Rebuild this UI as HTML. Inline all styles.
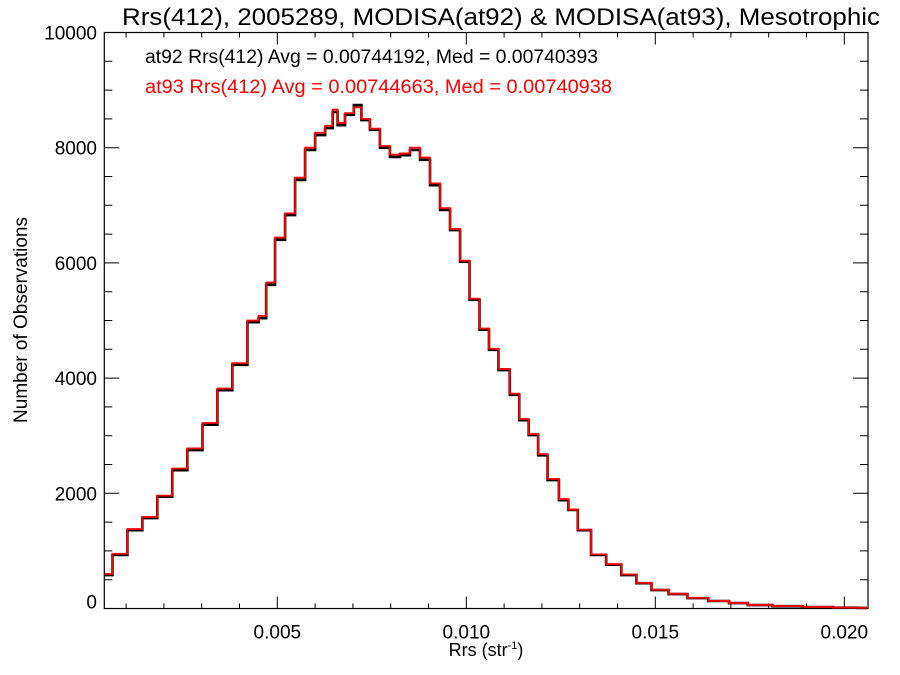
<!DOCTYPE html>
<html><head><meta charset="utf-8"><style>
body{margin:0;background:#fff}
svg{display:block;font-family:"Liberation Sans",sans-serif}
</style></head><body>
<svg id="chart" width="900" height="675" viewBox="0 0 900 675">
<rect width="900" height="675" fill="#fff"/>
<text x="122" y="25" font-size="24" textLength="758" lengthAdjust="spacingAndGlyphs">Rrs(412), 2005289, MODISA(at92) &amp; MODISA(at93), Mesotrophic</text>
<text x="145" y="63" font-size="19" textLength="453" lengthAdjust="spacingAndGlyphs" fill="#000">at92 Rrs(412) Avg = 0.00744192, Med = 0.00740393</text>
<text x="145" y="93" font-size="19" textLength="467" lengthAdjust="spacingAndGlyphs" fill="#f00">at93 Rrs(412) Avg = 0.00744663, Med = 0.00740938</text>
<text transform="translate(27,320) rotate(-90)" font-size="19" text-anchor="middle">Number of Observations</text>
<text x="486" y="656" font-size="18" text-anchor="middle">Rrs (str<tspan font-size="11" dy="-7">-1</tspan><tspan dy="7">)</tspan></text>
<g id="axes"></g>
<g id="series"></g>
</svg>
<script>
const xCenters=[0.00044,0.00084,0.00123,0.00163,0.00202,0.00242,0.00282,0.00322,0.00361,0.00401,0.00441,0.0046,0.00481,0.00507,0.00534,0.0056,0.00587,0.00613,0.0064,0.00653,0.00666,0.00692,0.00713,0.00732,0.00758,0.00785,0.00811,0.00838,0.00864,0.00891,0.00917,0.00944,0.0097,0.00997,0.0102,0.0105,0.0107,0.011,0.0113,0.0115,0.0118,0.012,0.0123,0.0126,0.0128,0.0131,0.0135,0.0139,0.0143,0.0147,0.0151,0.0156,0.0161,0.0167,0.0172,0.0177,0.0185,0.0193,0.0201,0.0206];
const countsAt92=[580,930,1360,1570,1940,2400,2750,3190,3790,4230,4970,5040,5620,6400,6830,7440,7960,8220,8340,8620,8390,8570,8740,8480,8310,8000,7840,7870,7960,7790,7350,6920,6570,6020,5360,4840,4490,4140,3710,3270,3010,2660,2230,1880,1710,1360,930,760,580,440,320,250,180,130,95,60,40,25,15,10];
const countsAt93=[600,950,1380,1590,1960,2430,2780,3220,3820,4260,5000,5080,5660,6440,6860,7480,8000,8260,8380,8660,8430,8600,8700,8500,8330,8030,7880,7900,8000,7830,7380,6950,6590,6040,5380,4860,4510,4160,3730,3290,3030,2680,2250,1900,1720,1370,940,770,590,445,325,255,185,132,97,62,42,26,16,11];
const xTicks=[0.005,0.010,0.015,0.020];
const xTickLabels=["0.005","0.010","0.015","0.020"];
const yTicks=[0,2000,4000,6000,8000,10000];
const yTickLabels=["0","2000","4000","6000","8000","10000"];
const X0=104.3,X1=868,Y0=608.5,Y1=32.5,xMin=0.000423,xMax=0.020627,yMin=0,yMax=10000;
const NS="http://www.w3.org/2000/svg";
function sx(v){return X0+(v-xMin)/(xMax-xMin)*(X1-X0);}
function sy(v){return Y0-(v-yMin)/(yMax-yMin)*(Y0-Y1);}
function mk(tag,attrs,parent){const e=document.createElementNS(NS,tag);for(const k in attrs)e.setAttribute(k,attrs[k]);parent.appendChild(e);return e;}
const axes=document.getElementById('axes');
const frame=mk('rect',{x:X0,y:Y1,width:X1-X0,height:Y0-Y1,fill:'none',stroke:'#000','stroke-width':1.2},axes);


for(let k=1;k<=20;k++){const v=k*0.001;if(v<xMin||v>xMax)continue;const x=sx(v);const major=(k%5===0);const L=major?12:5;
 const t=mk('path',{d:`M${x},${Y0}V${Y0-L}M${x},${Y1}V${Y1+L}`,stroke:'#000','stroke-width':1},axes);
 
 }
xTicks.forEach((v,i)=>{const t=mk('text',{x:sx(v),y:Y0+30,'font-size':19,'text-anchor':'middle'},axes);t.textContent=xTickLabels[i];
 
 });
for(let k=0;k<=20;k++){const v=k*500;const y=sy(v);const major=(k%4===0);const L=major?15:8;
 const t=mk('path',{d:`M${X0},${y}H${X0+L}M${X1},${y}H${X1-L}`,stroke:'#000','stroke-width':1},axes);
 
 }
yTicks.forEach((v,i)=>{const t=mk('text',{x:97,y:sy(v)+(v===0?0:7),'font-size':19,'text-anchor':'end'},axes);t.textContent=yTickLabels[i];
 
 });
function stepPath(xs,ys){let d='';for(let i=0;i<xs.length;i++){const l=i===0?xs[0]:(xs[i-1]+xs[i])/2;const r=i===xs.length-1?xs[i]:(xs[i]+xs[i+1])/2;
 const y=sy(ys[i]);d+=(i===0?`M${sx(l)},${y}`:`V${y}`)+`H${sx(r)}`;}return d;}
const series=document.getElementById('series');
const p1=mk('path',{d:stepPath(xCenters,countsAt92),fill:'none',stroke:'#000','stroke-width':2.6},series);


const p2=mk('path',{d:stepPath(xCenters,countsAt93),fill:'none',stroke:'#f00','stroke-width':1.8},series);


</script>
</body></html>
